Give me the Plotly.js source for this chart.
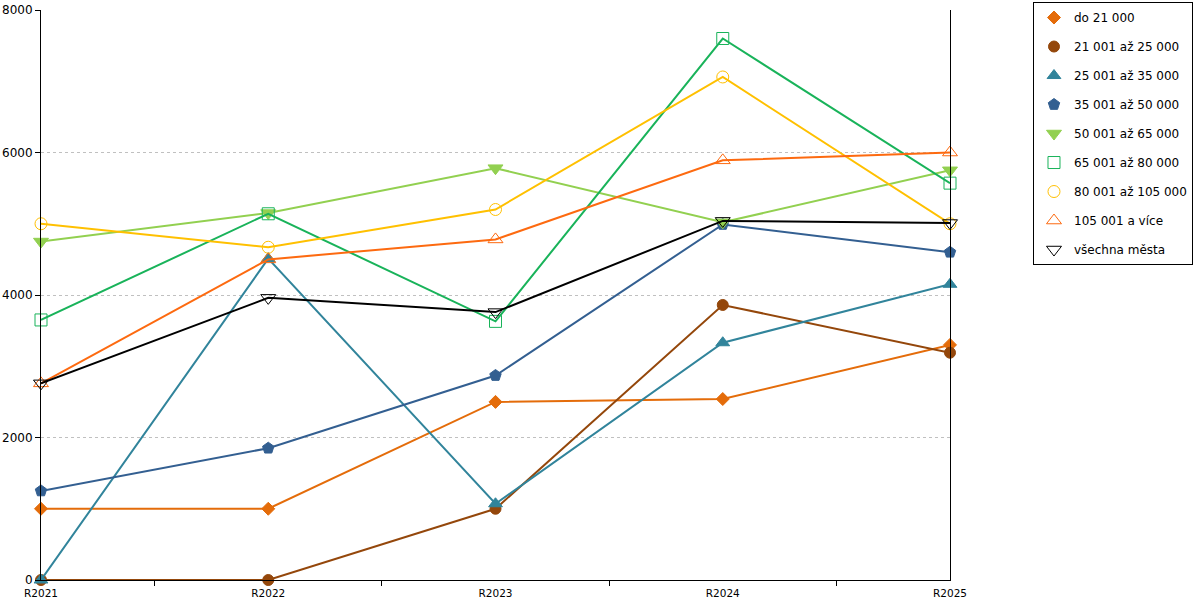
<!DOCTYPE html>
<html>
<head>
<meta charset="utf-8">
<script src="https://cdn.plot.ly/plotly-3.0.1.min.js"></script>
<style>html,body{margin:0;padding:0;background:#fff;}#chart{width:1200px;height:600px;}</style>
</head>
<body>
<div id="chart"></div>
<script>
const years = ["R2021", "R2022", "R2023", "R2024", "R2025"];
const seriesNames = ["do 21 000", "21 001 až 25 000", "25 001 až 35 000", "35 001 až 50 000", "50 001 až 65 000", "65 001 až 80 000", "80 001 až 105 000", "105 001 a více", "všechna města"];
const do21 = [1000, 1000, 2500, 2540, 3300];
const s21_25 = [0, 0, 1000, 3860, 3190];
const s25_35 = [0, 4510, 1070, 3330, 4150];
const s35_50 = [1250, 1850, 2870, 4990, 4600];
const s50_65 = [4750, 5150, 5780, 5020, 5750];
const s65_80 = [3650, 5140, 3630, 7600, 5570];
const s80_105 = [5000, 4670, 5200, 7060, 5000];
const s105 = [2760, 4500, 4780, 5890, 6000];
const vsechna = [2760, 3960, 3760, 5040, 5010];
const seriesValues = [do21, s21_25, s25_35, s35_50, s50_65, s65_80, s80_105, s105, vsechna];

const colors = ["#e46c0a", "#94470b", "#31849b", "#335f91", "#92d050", "#19b35a", "#ffc000", "#fd6a10", "#000000"];
const symbols = ["diamond", "circle", "triangle-up", "pentagon", "triangle-down", "square-open", "circle-open", "triangle-up-open", "triangle-down-open"];
const sizes = [10, 11, 12, 12, 13, 12, 12, 13, 13];

const traces = [];
seriesValues.forEach((vals, i) => {
  traces.push({
    x: years, y: vals, type: "scatter", mode: "lines+markers",
    name: seriesNames[i], showlegend: false, cliponaxis: false,
    line: {color: colors[i], width: 2},
    marker: {symbol: symbols[i], size: sizes[i], color: colors[i], line: {color: colors[i], width: 1}},
    hoverinfo: "x+y+name"
  });
});
seriesValues.forEach((vals, i) => {
  traces.push({
    x: [null], y: [null], type: "scatter", mode: "markers",
    name: seriesNames[i], showlegend: true, legendgroup: "g" + i,
    marker: {symbol: symbols[i], size: sizes[i], color: colors[i], line: {color: colors[i], width: 1}}
  });
});

const layout = {
  width: 1200, height: 600,
  margin: {l: 41, r: 250, t: 10, b: 20, autoexpand: false},
  paper_bgcolor: "#fff", plot_bgcolor: "#fff",
  font: {family: "DejaVu Sans", size: 12, color: "#000"},
  xaxis: {
    type: "category", range: [0, 4], showline: true, linecolor: "#000", linewidth: 1,
    ticks: "outside", tickson: "boundaries", ticklen: 5, tickcolor: "#000",
    ticklabelstandoff: 3,
    showgrid: false, zeroline: false, tickfont: {family: "DejaVu Sans", size: 10.5, color: "#000"}
  },
  yaxis: {
    range: [0, 8000], dtick: 2000, tick0: 0, showline: true, mirror: true, linecolor: "#000", linewidth: 1,
    ticks: "outside", ticklen: 5, tickcolor: "#000",
    showgrid: true, gridcolor: "#c0c0c0", griddash: "3px,3px", gridwidth: 1, zeroline: false,
    tickfont: {family: "DejaVu Sans", size: 12, color: "#000"}
  },
  legend: {
    x: 1.0913, xanchor: "left", y: 1.014, yanchor: "top",
    bordercolor: "#000", borderwidth: 1, bgcolor: "#fff",
    font: {family: "DejaVu Sans", size: 12, color: "#000"},
    tracegroupgap: 10, itemwidth: 30
  },
  showlegend: true
};

Plotly.newPlot("chart", traces, layout, {displayModeBar: false, staticPlot: true});
</script>
</body>
</html>
